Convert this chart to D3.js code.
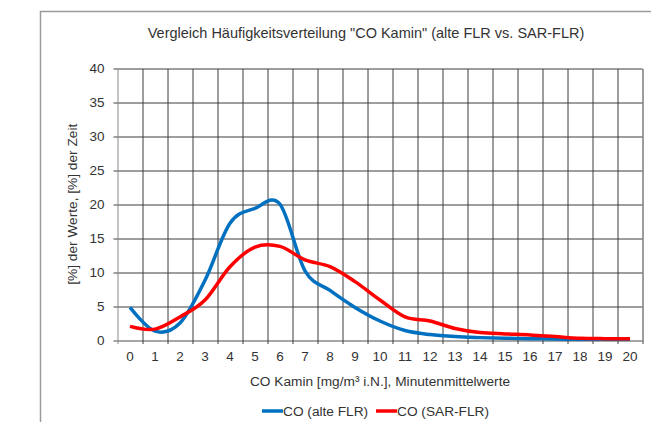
<!DOCTYPE html>
<html>
<head>
<meta charset="utf-8">
<script src="https://cdn.jsdelivr.net/npm/d3@7"></script>
<style>
  body { margin: 0; background: #fff; }
  text { font-family: "Liberation Sans", Arial, sans-serif; fill: #333; }
</style>
</head>
<body>
<div id="chart"></div>
<script>
// data
let categories = d3.range(0, 21).map(String);
let altFLR = [4.8, 1.3, 2.5, 8.8, 17.2, 19.4, 20.0, 10.2, 7.3, 4.8, 2.8, 1.4, 0.8, 0.5, 0.35, 0.25, 0.2, 0.15, 0.1, 0.1, 0.1];
let sarFLR = [2.0, 1.6, 3.4, 5.9, 10.8, 13.7, 13.8, 11.8, 10.8, 8.6, 5.9, 3.4, 2.8, 1.7, 1.1, 0.9, 0.75, 0.5, 0.25, 0.2, 0.2];
let yTicks = [0, 5, 10, 15, 20, 25, 30, 35, 40];
let seriesNames = ["CO (alte FLR)", "CO (SAR-FLR)"];

let svgWidth = 651;
let svgHeight = 422;
let margin = { top: 68.5, right: 8.5, bottom: 82, left: 117.5 };
let chartWidth = svgWidth - margin.left - margin.right;
let chartHeight = svgHeight - margin.top - margin.bottom;

let svg = d3.select("#chart")
  .append("svg")
  .attr("width", svgWidth)
  .attr("height", svgHeight);

// outer frame (only top and left edge visible)
svg.append("path")
  .attr("d", "M40.5,422 V11.5 H651")
  .attr("fill", "none")
  .attr("stroke", "#9a9a9a")
  .attr("stroke-width", 1.5);

let chartGroup = svg.append("g")
  .attr("transform", `translate(${margin.left}, ${margin.top})`);

let xScale = d3.scaleBand()
  .domain(categories)
  .range([0, chartWidth]);

let yScale = d3.scaleLinear()
  .domain([0, 40])
  .range([chartHeight, 0]);

// horizontal grid lines + small ticks on the left
chartGroup.append("g")
  .selectAll("line")
  .data(yTicks)
  .enter()
  .append("line")
  .attr("x1", -4)
  .attr("x2", chartWidth)
  .attr("y1", d => Math.round(yScale(d)) + 0.5)
  .attr("y2", d => Math.round(yScale(d)) + 0.5)
  .attr("stroke", d => d === 0 ? "#888" : "#3c3c3c")
  .attr("stroke-width", d => d === 0 ? 1.5 : 1);

// vertical grid lines at the category borders
let edges = categories.map(c => xScale(c)).concat([chartWidth]);
chartGroup.append("g")
  .selectAll("line")
  .data(edges)
  .enter()
  .append("line")
  .attr("x1", d => Math.round(d) + 0.5)
  .attr("x2", d => Math.round(d) + 0.5)
  .attr("y1", Math.round(yScale(40)) + 0.5)
  .attr("y2", chartHeight + 4)
  .attr("stroke", (d, i) => i === 0 ? "#888" : "#3c3c3c")
  .attr("stroke-width", 1);

// axes labels
let leftAxis = d3.axisLeft(yScale).tickValues(yTicks).tickSize(0).tickPadding(13);
chartGroup.append("g")
  .call(leftAxis)
  .call(g => g.select(".domain").remove())
  .selectAll("text")
  .style("font-size", "13.5px")
  .attr("fill", "#333");

let bottomAxis = d3.axisBottom(xScale).tickSize(0).tickPadding(11);
chartGroup.append("g")
  .attr("transform", `translate(0, ${chartHeight})`)
  .call(bottomAxis)
  .call(g => g.select(".domain").remove())
  .selectAll("text")
  .style("font-size", "13.5px")
  .attr("fill", "#333");

// lines, smoothed like the spreadsheet
let lineGen = d3.line()
  .x((d, i) => xScale(categories[i]) + xScale.bandwidth() / 2)
  .y(d => yScale(d))
  .curve(d3.curveCatmullRom.alpha(0));

chartGroup.append("path")
  .datum(altFLR)
  .attr("d", lineGen)
  .attr("fill", "none")
  .attr("stroke", "#0070c0")
  .attr("stroke-width", 3.5);

chartGroup.append("path")
  .datum(sarFLR)
  .attr("d", lineGen)
  .attr("fill", "none")
  .attr("stroke", "#ff0000")
  .attr("stroke-width", 3.5);

// titles
svg.append("text")
  .attr("x", 366)
  .attr("y", 38)
  .attr("text-anchor", "middle")
  .style("font-size", "14.5px")
  .text("Vergleich Häufigkeitsverteilung \"CO Kamin\" (alte FLR vs. SAR-FLR)");

svg.append("text")
  .attr("x", 380)
  .attr("y", 386)
  .attr("text-anchor", "middle")
  .style("font-size", "13.7px")
  .text("CO Kamin [mg/m³ i.N.], Minutenmittelwerte");

svg.append("text")
  .attr("transform", `translate(77, ${margin.top + chartHeight / 2}) rotate(-90)`)
  .attr("text-anchor", "middle")
  .style("font-size", "13.7px")
  .text("[%] der Werte, [%] der Zeit");

// legend
let legendColors = ["#0070c0", "#ff0000"];
let legendX = [262, 376];
seriesNames.forEach(function(name, i) {
  let lg = svg.append("g").attr("transform", `translate(${legendX[i]}, 411)`);
  lg.append("line")
    .attr("x1", 0).attr("x2", 21)
    .attr("y1", 0).attr("y2", 0)
    .attr("stroke", legendColors[i])
    .attr("stroke-width", 3.5);
  lg.append("text")
    .attr("x", 21)
    .attr("y", 5)
    .style("font-size", "13.7px")
    .text(name);
});
</script>
</body>
</html>
